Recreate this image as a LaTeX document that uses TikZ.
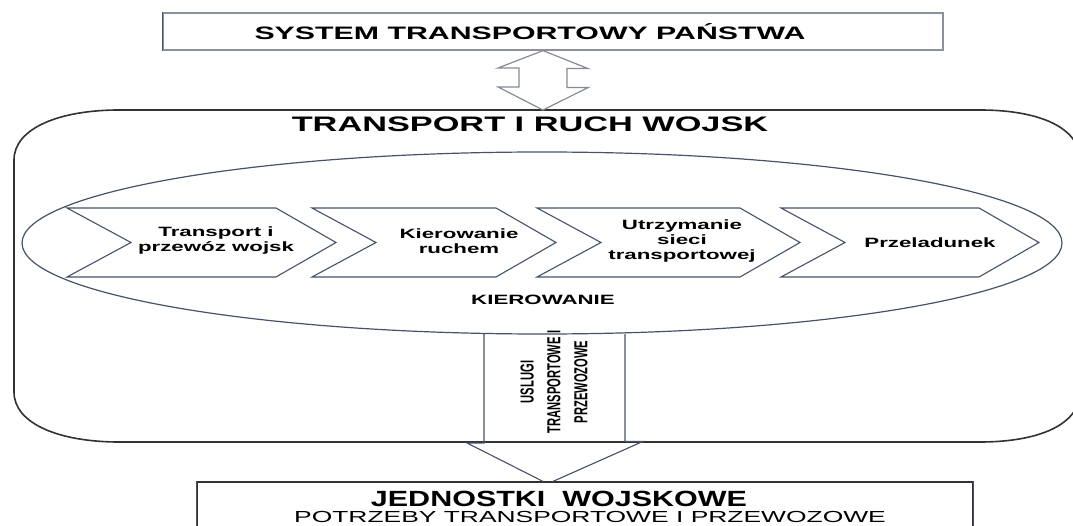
\documentclass[tikz,border=0pt]{standalone}
\usepackage{fontspec}
\setmainfont{Liberation Sans}
\usetikzlibrary{shapes.geometric}
\definecolor{frame}{RGB}{50,50,52}
\definecolor{edge}{RGB}{70,82,104}
\definecolor{soft}{RGB}{140,146,156}

\begin{document}
\begin{tikzpicture}[x=1pt,y=-1pt,
  box/.style={draw=soft, line width=1.2pt, inner sep=0pt},
  lbl/.style={font=\bfseries\fontsize{13.5}{15}\selectfont, align=center, xscale=1.65, inner sep=0pt},
  chev/.style={draw=edge, line width=1.1pt, line join=miter},
  dbl/.style={draw=soft!90!edge, line width=1.2pt, fill=white}]
\useasboundingbox (0,0) rectangle (1073,526);
\clip (0,0) rectangle (1073,526);
\node[box, minimum width=780pt, minimum height=37pt] (sys) at (553,31.5) {};
\draw[edge, line width=1.4pt] (sys.north west) -- (sys.south west);
\node[lbl, font=\bfseries\fontsize{18}{20}\selectfont, xscale=1.02] (systxt) at (530,32) {SYSTEM TRANSPORTOWY PAŃSTWA};
\draw[frame, line width=1.6pt] (14,160) .. controls (14,128) and (60,110) .. (119,110) -- (980,110) .. controls (1040,110) and (1080,128) .. (1080,160) -- (1080,392) .. controls (1080,424) and (1040,442) .. (980,442) -- (119,442) .. controls (60,442) and (14,424) .. (14,392) -- cycle;
\coordinate (ruch) at (543,110);
\draw[dbl] (sys.south -| ruch) -- ++(45,18) -- ++(-21,0) -- ++(0,19) -- ++(21,0) -- (ruch) -- ++(-45,-23) -- ++(21,0) -- ++(0,-19) -- ++(-21,0) -- cycle;
\node[lbl, font=\bfseries\fontsize{21}{23}\selectfont, xscale=0.99] (ruchtxt) at (530,124.5) {TRANSPORT I RUCH WOJSK};
\node[draw=edge, line width=1.2pt, ellipse, minimum width=1040pt, minimum height=182pt, inner sep=0pt, outer sep=0pt] (kier) at (542,243) {};
\foreach \a/\b in {67/336,312/556,537/800,781/1039}
  \draw[chev] (\a,208) -- (\b-60,208) -- (\b,242.5) -- (\b-60,277) -- (\a,277) -- (\a+64,242.5) -- cycle;
\node[lbl] (c1) at (216,241) {Transport i\\przewóz wojsk};
\node[lbl] (c2) at (459,241) {Kierowanie\\ruchem};
\node[lbl] (c3) at (682,241) {Utrzymanie\\sieci\\transportowej};
\node[lbl] (c4) at (930,243) {Przeladunek};
\node[lbl] (kiertxt) at (543,300) {KIEROWANIE};
\node[box, draw=frame, minimum width=776pt, minimum height=96pt] (jedn) at (585,530) {};
\draw[edge, line width=1.4pt] (jedn.north west) -- (jedn.south west) (jedn.north east) -- (jedn.south east);
\draw[chev] ([xshift=-58pt]kier.south) -- ++(0,109) -- ++(-17,0) -- (jedn.north -| ruch) ++(10,0) -- ++(90,-40) -- ++(-18,0) -- ([xshift=83pt]kier.south);
\node[font=\bfseries\fontsize{11.2}{16}\selectfont, align=center, inner sep=0pt, xscale=1.68, rotate=90] (usl) at (554,382) {USLUGI\\TRANSPORTOWE I\\PRZEWOZOWE};
\node[lbl, font=\bfseries\fontsize{22}{24}\selectfont, xscale=0.84] (jedntxt) at (559,499) {JEDNOSTKI\ \ WOJSKOWE};
\node[lbl, font=\fontsize{16}{18}\selectfont] (potrz) at (590,517) {POTRZEBY TRANSPORTOWE I PRZEWOZOWE};
\end{tikzpicture}
\end{document}
